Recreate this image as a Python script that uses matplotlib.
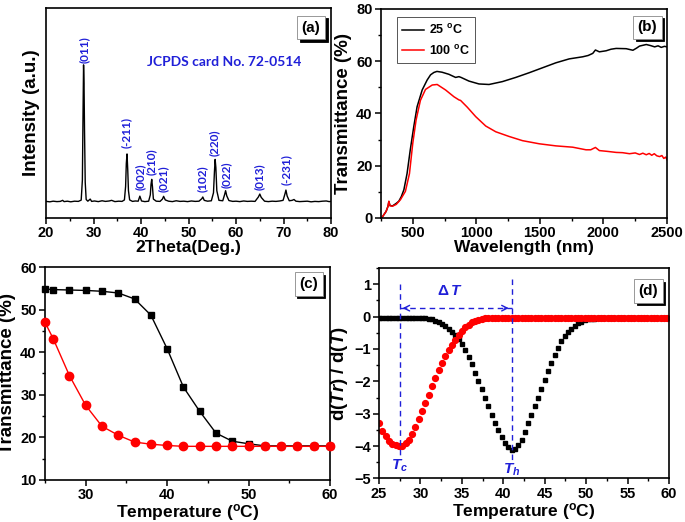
import matplotlib
matplotlib.use("Agg")
import matplotlib.pyplot as plt
from matplotlib.ticker import MultipleLocator, NullLocator
from matplotlib.transforms import offset_copy

plt.rcParams['font.family'] = ['Liberation Sans', 'DejaVu Sans']
plt.rcParams['font.weight'] = 'bold'
plt.rcParams['mathtext.fontset'] = 'custom'
plt.rcParams['mathtext.rm'] = 'Liberation Sans:bold'
plt.rcParams['mathtext.it'] = 'Liberation Sans:italic:bold'
plt.rcParams['mathtext.bf'] = 'Liberation Sans:bold'

BLUE = '#2020d8'
RED = '#ff0000'

# ---- (a) XRD pattern ----
xrd_2theta = [20.0, 20.8, 21.5, 22.3, 23.0, 23.5, 23.8, 24.5, 25.2, 26.0,
              26.8, 27.4, 27.65, 27.8, 27.9, 28.0, 28.1, 28.25, 28.45, 28.8,
              29.3, 29.6, 30.2, 31.0, 31.8, 32.5, 33.3, 33.8, 34.5, 35.3,
              36.0, 36.5, 36.75, 36.9, 37.05, 37.2, 37.35, 37.6, 38.2, 38.8,
              39.4, 39.75, 40.1, 40.8, 41.6, 41.95, 42.1, 42.25, 42.4, 42.6,
              43.2, 44.0, 44.5, 44.75, 45.1, 45.8, 46.6, 47.4, 48.2, 49.0,
              49.8, 50.6, 51.4, 52.2, 52.8, 53.0, 53.3, 54.0, 54.8, 55.25,
              55.45, 55.6, 55.75, 55.95, 56.4, 57.2, 57.6, 57.8, 58.05, 58.5,
              59.3, 60.0, 60.8, 61.6, 62.4, 63.2, 64.0, 64.7, 65.0, 65.3,
              66.0, 66.8, 67.6, 68.4, 69.2, 69.9, 70.3, 70.5, 70.75, 71.2,
              71.8, 72.2, 72.6, 73.4, 74.2, 75.0, 75.8, 76.6, 77.4, 78.2,
              79.0, 79.6, 80.0]
xrd_int = [79, 77, 80, 78, 79, 84, 78, 80, 77, 80,
           79, 85, 180, 520, 729, 640, 420, 170, 88, 80,
           90, 79, 81, 78, 82, 79, 81, 84, 78, 80,
           79, 86, 150, 260, 305, 230, 130, 86, 79, 81,
           80, 104, 81, 78, 80, 110, 160, 184, 150, 90,
           80, 79, 90, 103, 86, 80, 78, 82, 79, 80,
           78, 81, 79, 80, 92, 100, 84, 80, 82, 120,
           220, 279, 240, 130, 84, 82, 112, 130, 105, 83,
           79, 80, 78, 81, 79, 80, 79, 100, 114, 98,
           80, 78, 80, 79, 81, 84, 115, 133, 105, 82,
           84, 88, 80, 78, 79, 80, 77, 79, 78, 80,
           81, 78, 79]
hkl_labels = ['(011)', '(-211)', '(002)', '(210)', '(021)', '(102)',
              '(220)', '(022)', '(013)', '(-231)']
hkl_pos = [28.0, 37.0, 39.8, 42.2, 44.7, 52.9, 55.5, 57.9, 65.0, 70.5]
hkl_base = [738, 333, 133, 205, 124, 124, 295, 143, 133, 157]

# ---- (b) transmittance spectra ----
wl_25 = [255, 290, 305, 312, 320, 340, 370, 390, 410, 430, 455, 480, 508,
         534, 574, 613, 640, 666, 690, 730, 784, 837, 863, 880, 942, 1021,
         1100, 1205, 1310, 1416, 1521, 1626, 1731, 1837, 1880, 1916, 1937,
         1968, 2021, 2060, 2100, 2179, 2232, 2260, 2284, 2337, 2370, 2403,
         2430, 2455, 2480, 2500]
tr_25 = [0.0, 2.5, 4.5, 6.3, 4.8, 4.6, 5.6, 6.4, 8.2, 10.8, 17.0, 26.0, 35.0,
         42.6, 49.0, 52.8, 54.8, 55.7, 56.1, 55.8, 55.0, 53.8, 54.1, 53.8,
         52.4, 51.3, 51.1, 52.2, 53.8, 55.6, 57.5, 59.4, 60.9, 61.7, 62.2,
         63.0, 64.3, 63.6, 64.0, 64.6, 64.9, 64.8, 64.2, 65.0, 65.8, 66.4,
         66.0, 65.5, 65.9, 65.3, 65.7, 65.5]
wl_100 = [255, 290, 305, 312, 320, 340, 370, 403, 442, 474, 500, 526, 560,
          600, 653, 692, 758, 824, 863, 876, 929, 995, 1074, 1153, 1258,
          1363, 1495, 1626, 1758, 1863, 1900, 1937, 1968, 2030, 2100, 2150,
          2205, 2250, 2284, 2310, 2337, 2360, 2380, 2400, 2420, 2442, 2460,
          2475, 2490, 2500]
tr_100 = [0.0, 2.5, 4.4, 6.4, 4.7, 4.5, 5.2, 7.0, 10.2, 17.0, 28.6, 37.5,
          45.0, 49.2, 50.9, 51.1, 49.0, 46.4, 45.2, 45.0, 42.4, 38.8, 35.2,
          33.0, 31.2, 29.6, 28.4, 27.6, 27.1, 26.1, 26.1, 27.0, 25.8, 25.5,
          25.1, 25.0, 24.6, 24.9, 24.3, 24.8, 24.2, 24.7, 24.0, 24.6, 23.8,
          23.5, 23.9, 22.8, 23.3, 22.3]

# ---- (c) transmittance vs temperature ----
temp_c = [25, 26, 28, 30, 32, 34, 36, 38, 40, 42, 44, 46, 48, 50, 52, 54,
          56, 58, 60]
tr_heat = [54.8, 54.7, 54.6, 54.5, 54.3, 53.9, 52.5, 48.7, 40.8, 31.8, 26.1,
           21.0, 19.1, 18.5, 18.0, 18.0, 18.0, 18.0, 18.0]
tr_cool = [47.0, 43.2, 34.5, 27.5, 22.6, 20.5, 18.9, 18.4, 18.1, 17.9, 17.9,
           17.9, 17.9, 17.9, 17.9, 17.9, 17.9, 17.9, 17.9]

# ---- (d) derivative curves ----
temp_d = [25.0, 25.4, 25.8, 26.2, 26.6, 27.0, 27.4, 27.8, 28.2, 28.6,
          29.0, 29.4, 29.8, 30.2, 30.6, 31.0, 31.4, 31.8, 32.2, 32.6,
          33.0, 33.4, 33.8, 34.2, 34.6, 35.0, 35.4, 35.8, 36.2, 36.6,
          37.0, 37.4, 37.8, 38.2, 38.6, 39.0, 39.4, 39.8, 40.2, 40.6,
          41.0, 41.4, 41.8, 42.2, 42.6, 43.0, 43.4, 43.8, 44.2, 44.6,
          45.0, 45.4, 45.8, 46.2, 46.6, 47.0, 47.4, 47.8, 48.2, 48.6,
          49.0, 49.4, 49.8, 50.2, 50.6, 51.0, 51.4, 51.8, 52.2, 52.6,
          53.0, 53.4, 53.8, 54.2, 54.6, 55.0, 55.4, 55.8, 56.2, 56.6,
          57.0, 57.4, 57.8, 58.2, 58.6, 59.0, 59.4, 59.8]
d_heat = [-0.03, -0.03, -0.03, -0.03, -0.03, -0.03, -0.03, -0.03, -0.03, -0.03,
          -0.03, -0.03, -0.04, -0.04, -0.05, -0.07, -0.09, -0.13, -0.17, -0.23,
          -0.30, -0.39, -0.48, -0.58, -0.70, -0.85, -1.04, -1.25, -1.48, -1.73,
          -2.00, -2.25, -2.51, -2.77, -3.03, -3.28, -3.51, -3.72, -3.90, -4.04,
          -4.12, -4.10, -3.98, -3.80, -3.57, -3.30, -3.04, -2.77, -2.50, -2.23,
          -1.96, -1.69, -1.43, -1.19, -0.97, -0.77, -0.61, -0.48, -0.37, -0.28,
          -0.21, -0.16, -0.12, -0.09, -0.07, -0.06, -0.05, -0.04, -0.04, -0.03,
          -0.03, -0.03, -0.03, -0.03, -0.03, -0.03, -0.03, -0.03, -0.03, -0.03,
          -0.03, -0.03, -0.03, -0.03, -0.03, -0.03, -0.03, -0.03]
d_cool = [-3.30, -3.52, -3.70, -3.83, -3.93, -3.98, -4.01, -3.99, -3.92, -3.80,
          -3.63, -3.42, -3.17, -2.92, -2.67, -2.41, -2.15, -1.90, -1.65, -1.43,
          -1.23, -1.04, -0.87, -0.71, -0.56, -0.44, -0.33, -0.25, -0.18, -0.13,
          -0.10, -0.07, -0.05, -0.04, -0.03, -0.03, -0.03, -0.03, -0.03, -0.03,
          -0.03, -0.03, -0.03, -0.03, -0.03, -0.03, -0.03, -0.03, -0.03, -0.03,
          -0.03, -0.03, -0.03, -0.03, -0.03, -0.03, -0.03, -0.03, -0.03, -0.03,
          -0.03, -0.03, -0.03, -0.03, -0.03, -0.03, -0.03, -0.03, -0.03, -0.03,
          -0.03, -0.03, -0.03, -0.03, -0.03, -0.03, -0.03, -0.03, -0.03, -0.03,
          -0.03, -0.03, -0.03, -0.03, -0.03, -0.03, -0.03, -0.03]
T_c, T_h = 27.5, 41.0

BOLD = dict(family=['Liberation Sans', 'DejaVu Sans'], fontweight='bold')


def style_axes(ax, xmaj, xmin, ymaj=None, ymin=None):
    for sp in ax.spines.values():
        sp.set_linewidth(1.2)
    ax.xaxis.set_major_locator(MultipleLocator(xmaj))
    ax.xaxis.set_minor_locator(MultipleLocator(xmin))
    if ymaj is not None:
        ax.yaxis.set_major_locator(MultipleLocator(ymaj))
        ax.yaxis.set_minor_locator(MultipleLocator(ymin))
    ax.tick_params(which='major', direction='out', length=4, width=1.1,
                   labelsize=10.5, pad=2)
    ax.tick_params(which='minor', direction='out', length=2.5, width=1)


def add_tag(ax, s, x, y):
    fig = ax.figure
    shadow = offset_copy(ax.transAxes, fig=fig, x=2.5, y=-2.5, units='dots')
    box = dict(boxstyle='square,pad=0.3', lw=0.6)
    ax.text(x, y, s, transform=shadow, ha='center', va='center', fontsize=11,
            color='black', bbox=dict(box, fc='black', ec='black'), zorder=9,
            **BOLD)
    ax.text(x, y, s, transform=ax.transAxes, ha='center', va='center',
            fontsize=11, bbox=dict(box, fc='white', ec='#888888'), zorder=10,
            **BOLD)


fig = plt.figure(figsize=(6.85, 5.22), dpi=100)
ax_a = fig.add_axes([0.0672, 0.5824, 0.4161, 0.4023])
ax_b = fig.add_axes([0.5562, 0.5824, 0.4175, 0.4004])
ax_c = fig.add_axes([0.0657, 0.0805, 0.4161, 0.4080])
ax_d = fig.add_axes([0.5533, 0.0834, 0.4234, 0.4032])

# (a)
ax_a.plot(xrd_2theta, xrd_int, color='black', lw=1)
ax_a.set_xlim(20, 80)
ax_a.set_ylim(0, 1000)
style_axes(ax_a, 10, 5)
ax_a.yaxis.set_major_locator(NullLocator())
ax_a.yaxis.set_minor_locator(NullLocator())
for lab, xp, yb in zip(hkl_labels, hkl_pos, hkl_base):
    ax_a.text(xp, yb, lab, rotation=90, ha='center', va='bottom', color=BLUE,
              fontsize=8.5, family=['Lato', 'DejaVu Sans'], fontweight='bold')
ax_a.text(57.5, 743, 'JCPDS card No. 72-0514', ha='center', va='center',
          color=BLUE, fontsize=10, family=['Lato', 'DejaVu Sans'],
          fontweight='bold')
ax_a.set_xlabel('2Theta(Deg.)', fontsize=12.5, labelpad=0, **BOLD)
ax_a.set_ylabel('Intensity (a.u.)', fontsize=13.5, labelpad=4, **BOLD)
add_tag(ax_a, '(a)', 0.93, 0.907)

# (b)
ax_b.plot(wl_25, tr_25, color='black', lw=1.1, label='25 $^{\\mathrm{o}}$C')
ax_b.plot(wl_100, tr_100, color=RED, lw=1.1, label='100 $^{\\mathrm{o}}$C')
ax_b.set_xlim(250, 2500)
ax_b.set_ylim(0, 80)
style_axes(ax_b, 500, 250, 20, 10)
ax_b.set_xlabel('Wavelength (nm)', fontsize=12.5, labelpad=0, **BOLD)
ax_b.set_ylabel('Transmittance (%)', fontsize=13.5, labelpad=3, **BOLD)
leg = ax_b.legend(loc='upper left', bbox_to_anchor=(0.055, 0.96),
                  prop=dict(family='Liberation Sans', size=9),
                  frameon=True, fancybox=False, edgecolor='#555555',
                  framealpha=1, handlelength=1.7, handletextpad=0.4,
                  borderpad=0.45, borderaxespad=0, labelspacing=0.55)
leg.get_frame().set_linewidth(0.7)
add_tag(ax_b, '(b)', 0.932, 0.913)

# (c)
ax_c.plot(temp_c, tr_heat, color='black', lw=1, marker='s', ms=5.0,
          clip_on=False, zorder=3)
ax_c.plot(temp_c, tr_cool, color=RED, lw=1, marker='o', ms=6,
          clip_on=False, zorder=4)
ax_c.set_xlim(25, 60)
ax_c.set_ylim(10, 60)
style_axes(ax_c, 10, 5, 10, 5)
ax_c.set_xlabel('Temperature ($^{\\mathrm{o}}$C)', fontsize=12.5, labelpad=0,
                **BOLD)
ax_c.set_ylabel('Transmittance (%)', fontsize=13.5, labelpad=3, **BOLD)
add_tag(ax_c, '(c)', 0.926, 0.92)

# (d)
ax_d.plot(temp_d, d_heat, ls='none', color='black', marker='s', ms=3.2)
ax_d.plot(temp_d, d_cool, ls='none', color=RED, marker='o', ms=4.2)
ax_d.set_xlim(25, 60)
ax_d.set_ylim(-5, 1.5)
style_axes(ax_d, 5, 2.5, 1, 0.5)
ax_d.plot([T_c, T_c], [1.0, -4.35], color=BLUE, ls='--', lw=1, dashes=(4, 3))
ax_d.plot([T_h, T_h], [1.17, -4.45], color=BLUE, ls='--', lw=1, dashes=(4, 3))
ax_d.plot([T_c, T_h], [0.26, 0.26], color=BLUE, ls='--', lw=1, dashes=(4, 3))
ax_d.annotate('', xy=(T_c, 0.26), xytext=(T_c + 1.2, 0.26),
              arrowprops=dict(arrowstyle='->', color=BLUE, lw=1))
ax_d.annotate('', xy=(T_h, 0.26), xytext=(T_h - 1.2, 0.26),
              arrowprops=dict(arrowstyle='->', color=BLUE, lw=1))
ax_d.text(33.5, 0.78, r'$\Delta\,T$', color=BLUE, fontsize=11,
          ha='center', va='center')
ax_d.text(T_c, -4.6, r'$T_c$', color=BLUE, fontsize=11, ha='center',
          va='center')
ax_d.text(T_h, -4.72, r'$T_h$', color=BLUE, fontsize=11, ha='center',
          va='center')
ax_d.set_xlabel('Temperature ($^{\\mathrm{o}}$C)', fontsize=12.5, labelpad=0,
                **BOLD)
ax_d.set_ylabel('d($Tr$) / d($T$)', fontsize=13.5, labelpad=3, **BOLD)
add_tag(ax_d, '(d)', 0.929, 0.891)

# make tick labels bold (set after a first draw so every tick gets it)
fig.canvas.draw()
for ax in (ax_a, ax_b, ax_c, ax_d):
    for lab in ax.get_xticklabels(which='both') + ax.get_yticklabels(which='both'):
        lab.set_fontweight('bold')
        lab.set_family(['Liberation Sans', 'DejaVu Sans'])

fig.savefig('out.png', dpi=100)
